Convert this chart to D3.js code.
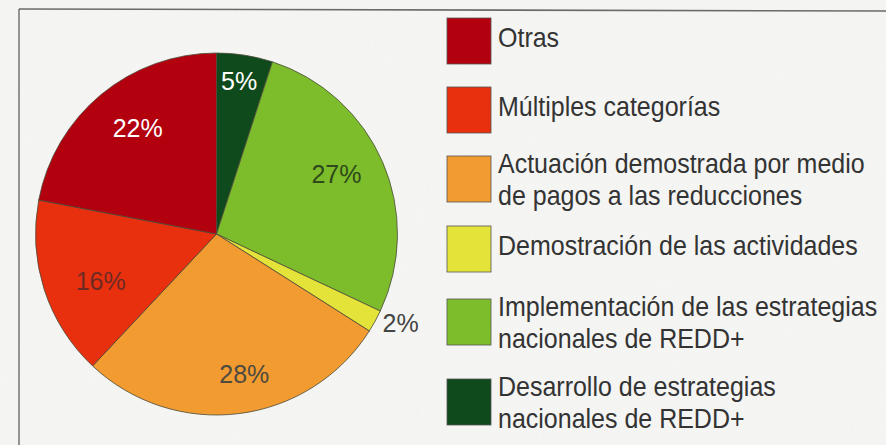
<!DOCTYPE html>
<html>
<head>
<meta charset="utf-8">
<script src="https://cdn.jsdelivr.net/npm/d3@7"></script>
<style>
  html, body { margin: 0; padding: 0; background: #f4f4f2; }
  svg { display: block; }
</style>
</head>
<body>
<svg id="chart" width="886" height="445"></svg>
<script>
// ---- data (legend order) ----
const categories = [
  "Otras",
  "Múltiples categorías",
  "Actuación demostrada por medio\nde pagos a las reducciones",
  "Demostración de las actividades",
  "Implementación de las estrategias\nnacionales de REDD+",
  "Desarrollo de estrategias\nnacionales de REDD+"
];
const values = [22, 16, 28, 2, 27, 5];
const valueLabels = ["22%", "16%", "28%", "2%", "27%", "5%"];
const colors = ["#b3000e", "#e8300f", "#f29b30", "#e4e33a", "#7dbd2b", "#0f4a1c"];
const labelColors = ["#ffffff", "#6e2a22", "#4e4a40", "#444444", "#2e4a1a", "#ffffff"];

// ---- layout ----
const W = 886, H = 445;
const cx = 216.5, cy = 234, R = 181;
const FONT = "'Liberation Sans', Arial, Helvetica, sans-serif";
// label placement tweaks (degrees shift, radius factor), legend order
const labelPlace = [[3, 0.73], [-4, 0.69], [-4, 0.79], [-3, 1.13], [-3, 0.74], [-0.6, 0.855]];
const legendTops = [18, 87, 156, 226, 299, 379];

const svg = d3.select("#chart");
const defs = svg.append("defs");
const f = defs.append("filter").attr("id", "paper").attr("x", 0).attr("y", 0).attr("width", "100%").attr("height", "100%");
f.append("feTurbulence").attr("type", "fractalNoise").attr("baseFrequency", "0.9 0.04").attr("numOctaves", 2).attr("seed", 3).attr("result", "n");
f.append("feColorMatrix").attr("in", "n").attr("type", "matrix")
  .attr("values", "0 0 0 0 0.6  0 0 0 0 0.6  0 0 0 0 0.6  0 0 0 0.06 0");
svg.append("rect").attr("width", W).attr("height", H).attr("fill", "#f5f5f3");
svg.append("rect").attr("width", W).attr("height", H).attr("filter", "url(#paper)").attr("opacity", 0.5);

// frame lines (top and left)
svg.append("line").attr("x1", 19).attr("y1", 9).attr("x2", W).attr("y2", 11)
  .attr("stroke", "#6a6a6a").attr("stroke-width", 1.6);
svg.append("line").attr("x1", 19).attr("y1", 9).attr("x2", 19).attr("y2", H)
  .attr("stroke", "#6a6a6a").attr("stroke-width", 1.4);

// ---- pie (clockwise from top: reverse of legend order) ----
const order = d3.range(categories.length).reverse();
const pie = d3.pie().sort(null).value(i => values[i]);
const arcs = pie(order);
const arc = d3.arc().innerRadius(0).outerRadius(R);
const g = svg.append("g").attr("transform", `translate(${cx},${cy})`);

g.selectAll("path.slice").data(arcs).enter().append("path")
  .attr("class", "slice")
  .attr("d", arc)
  .attr("fill", d => colors[d.data])
  .attr("stroke", "#4a4a3a")
  .attr("stroke-width", 0.8)
  .attr("stroke-linejoin", "round");

g.selectAll("text.pct").data(arcs).enter().append("text")
  .attr("class", "pct")
  .attr("transform", d => {
    const p = labelPlace[d.data];
    const a = (d.startAngle + d.endAngle) / 2 + p[0] * Math.PI / 180;
    const r = R * p[1];
    return `translate(${Math.sin(a) * r},${-Math.cos(a) * r})`;
  })
  .attr("text-anchor", "middle")
  .attr("dy", "0.36em")
  .attr("font-family", FONT)
  .attr("font-size", 25)
  .attr("fill", d => labelColors[d.data])
  .text(d => valueLabels[d.data]);

// ---- legend ----
const legX = 447, sw = 44, sh = 46, lh = 32;
const lg = svg.append("g");
categories.forEach((c, i) => {
  const top = legendTops[i];
  lg.append("rect")
    .attr("x", legX).attr("y", top).attr("width", sw).attr("height", sh)
    .attr("fill", colors[i]).attr("stroke", "#555").attr("stroke-width", 0.8);
  const lines = c.split("\n");
  const firstBase = lines.length > 1 ? top + 17 : top + 29;
  lines.forEach((ln, k) => {
    lg.append("text")
      .attr("transform", `translate(${legX + sw + 7},${firstBase + k * lh}) scale(1,1.1)`)
      .attr("font-family", FONT)
      .attr("font-size", 25)
      .attr("fill", "#333")
      .text(ln);
  });
});
</script>
</body>
</html>
